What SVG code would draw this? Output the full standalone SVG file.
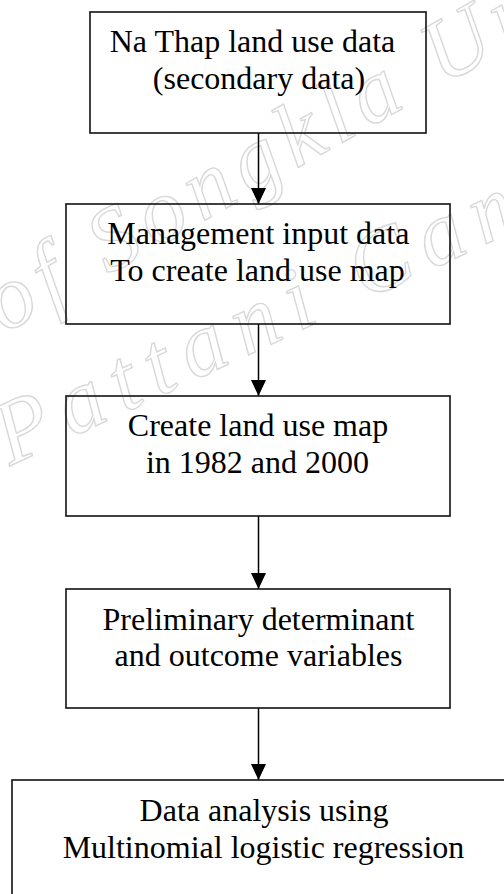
<svg xmlns="http://www.w3.org/2000/svg" width="504" height="894" viewBox="0 0 504 894">
  <defs>
    <marker id="arrow" viewBox="0 0 16 15" refX="16" refY="7.5" markerWidth="16" markerHeight="15" markerUnits="userSpaceOnUse" orient="auto">
      <path d="M0,0 L16,7.5 L0,15 Z" fill="#000"/>
    </marker>
    <style>
      .box { fill: none; stroke: #111; stroke-width: 1.6; }
      .lbl { font-family: "Liberation Serif", "Times New Roman", serif; font-size: 32px; fill: #000; text-anchor: middle; }
      .edge { stroke: #000; stroke-width: 1.5; fill: none; }
      .wm { font-family: "Liberation Serif", "DejaVu Serif", serif; font-style: italic; font-size: 90px; fill: none; stroke: #d8d8d8; stroke-width: 1.4; }
    </style>
  </defs>

  <rect width="504" height="894" fill="#fff"/>

  <!-- faint outlined watermark lettering -->
  <g id="watermark">
    <text class="wm" letter-spacing="9" transform="translate(4,334) rotate(-29.5)">of Songkla Un</text>
    <text class="wm" letter-spacing="13" transform="translate(10,466) rotate(-25)">Pattani Cam</text>
  </g>

  <g id="connectors">
    <line class="edge" x1="258.5" y1="133" x2="258.5" y2="204" marker-end="url(#arrow)"/>
    <line class="edge" x1="258.5" y1="324" x2="258.5" y2="396" marker-end="url(#arrow)"/>
    <line class="edge" x1="258.5" y1="516" x2="258.5" y2="589" marker-end="url(#arrow)"/>
    <line class="edge" x1="258.5" y1="708" x2="258.5" y2="780" marker-end="url(#arrow)"/>
  </g>

  <g id="n1">
    <rect class="box" x="90" y="12" width="336" height="121"/>
    <text class="lbl" x="252.5" y="52">Na Thap land use data</text>
    <text class="lbl" x="259" y="89">(secondary data)</text>
  </g>

  <g id="n2">
    <rect class="box" x="66" y="204" width="384" height="120"/>
    <text class="lbl" x="258.3" y="244">Management input data</text>
    <text class="lbl" x="257.5" y="281">To create land use map</text>
  </g>

  <g id="n3">
    <rect class="box" x="66" y="396" width="384" height="120"/>
    <text class="lbl" x="258" y="436">Create land use map</text>
    <text class="lbl" x="257.5" y="473">in 1982 and 2000</text>
  </g>

  <g id="n4">
    <rect class="box" x="66" y="589" width="384" height="119"/>
    <text class="lbl" x="258.5" y="630">Preliminary determinant</text>
    <text class="lbl" x="258.5" y="666">and outcome variables</text>
  </g>

  <g id="n5">
    <rect class="box" x="12" y="780" width="504" height="130"/>
    <text class="lbl" x="264" y="821">Data analysis using</text>
    <text class="lbl" x="263.5" y="858">Multinomial logistic regression</text>
  </g>
</svg>
